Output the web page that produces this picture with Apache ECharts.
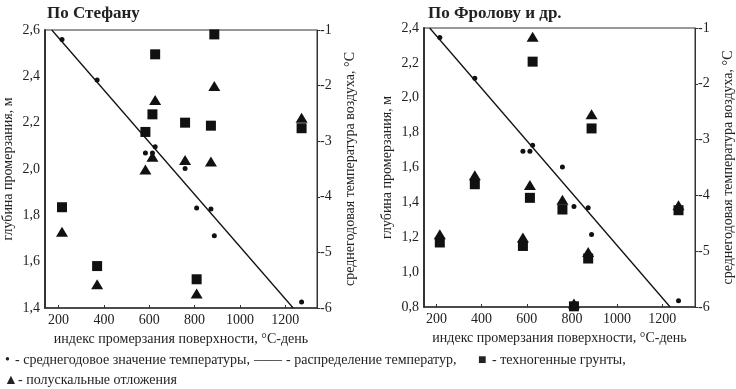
<!DOCTYPE html>
<html>
<head>
<meta charset="utf-8">
<script src="https://cdn.jsdelivr.net/npm/echarts@6/dist/echarts.min.js"></script>
<style>
  html, body { margin: 0; padding: 0; background: #fff; }
  #chart { width: 736px; height: 389px; }
</style>
</head>
<body>
<div id="chart"></div>
<script>
// станции: индекс промерзания поверхности, °С-день
const stations = [215, 370, 583, 614, 626, 758, 809, 872, 887, 1272];
// среднегодовая температура воздуха, °С (одинаковая для обеих панелей)
const meanTemp = [-1.17, -1.90, -3.21, -3.21, -3.10, -3.49, -4.20, -4.22, -4.70, -5.89];
// распределение температур (прямая)
const trendLine = [[170, -1], [1235, -6]];

// По Стефану: глубина промерзания, м
const stefanSoil = [1.835, 1.581, 2.160, 2.236, 2.495, 2.200, 1.524, 2.187, 2.581, 2.176];
const stefanRock = [1.729, 1.502, 1.998, 2.053, 2.298, 2.039, 1.463, 2.032, 2.358, 2.221];
// По Фролову и др.
const frolovSoil = [1.170, 1.504, 1.150, 1.426, 2.207, 1.359, 0.804, 1.078, 1.824, 1.355];
const frolovRock = [1.217, 1.556, 1.199, 1.499, 2.350, 1.415, 0.820, 1.116, 1.905, 1.384];

const xTicks = [200, 400, 600, 800, 1000, 1200];
const panelTitles = ['По Стефану', 'По Фролову и др.'];
const legendParts = [
  '•', '- среднегодовое значение температуры,',
  '——', '- распределение температур,',
  '■', '- техногенные грунты,',
  '▲', '- полускальные отложения'
];

const chart = echarts.init(document.getElementById('chart'));

const serif = '"Liberation Serif", "DejaVu Serif", serif';
const ink = '#222';
const pairs = (ys) => stations.map((x, i) => [x, ys[i]]);
const comma = (v) => v.toFixed(1).replace('.', ',');

function xAxisFor(gridIndex, min, max) {
  return {
    type: 'value', gridIndex, min, max,
    name: 'индекс промерзания поверхности, °С-день',
    nameLocation: 'middle', nameGap: 19,
    nameTextStyle: { fontFamily: serif, fontSize: 14, color: ink },
    splitLine: { show: false },
    axisLine: { lineStyle: { color: '#333', width: 1.5 } },
    axisTick: { show: true, inside: true, length: 3, customValues: xTicks, lineStyle: { color: '#333' } },
    axisLabel: { customValues: xTicks, formatter: (v) => String(v), margin: 5, fontFamily: serif, fontSize: 14, color: ink }
  };
}

function depthAxis(gridIndex, min, max) {
  return {
    type: 'value', gridIndex, min, max, interval: 0.2, position: 'left',
    name: 'глубина промерзания, м',
    nameLocation: 'middle', nameRotate: 90, nameGap: 30,
    nameTextStyle: { fontFamily: serif, fontSize: 14, color: ink },
    splitLine: { show: false },
    axisLine: { show: true, lineStyle: { color: '#333', width: 2 } },
    axisTick: { show: false },
    axisLabel: { formatter: comma, margin: 5, fontFamily: serif, fontSize: 14, color: ink }
  };
}

function tempAxis(gridIndex) {
  return {
    type: 'value', gridIndex, min: -6, max: -1, interval: 1, position: 'right',
    name: 'среднегодовая температура воздуха, °С',
    nameLocation: 'middle', nameRotate: 90, nameGap: 26,
    nameTextStyle: { fontFamily: serif, fontSize: 14, color: ink },
    splitLine: { show: false },
    axisLine: { show: true, lineStyle: { color: '#333', width: 1 } },
    axisTick: { show: true, length: 3, lineStyle: { color: '#333' } },
    axisLabel: { margin: 3, fontFamily: serif, fontSize: 14, color: ink }
  };
}

function panelSeries(p, soil, rock) {
  const x = p, yDepth = p * 2, yTemp = p * 2 + 1;
  const mark = { color: '#111', opacity: 1 };
  return [
    {
      name: 'техногенные грунты', type: 'scatter', xAxisIndex: x, yAxisIndex: yDepth,
      symbol: 'rect', symbolSize: 10, itemStyle: mark, data: pairs(soil)
    },
    {
      name: 'полускальные отложения', type: 'scatter', xAxisIndex: x, yAxisIndex: yDepth,
      symbol: 'triangle', symbolSize: [12, 10], itemStyle: mark, data: pairs(rock)
    },
    {
      name: 'среднегодовое значение температуры', type: 'scatter', xAxisIndex: x, yAxisIndex: yTemp,
      symbol: 'circle', symbolSize: 5, itemStyle: mark, data: pairs(meanTemp)
    },
    {
      name: 'распределение температур', type: 'line', xAxisIndex: x, yAxisIndex: yTemp,
      showSymbol: false, symbol: 'none', lineStyle: { color: '#111', width: 1.3 }, data: trendLine, z: 1
    }
  ];
}

// где стоит каждый фрагмент подписи легенды
const legendPlace = [
  [5, 353], [15, 353],
  [254, 353], [286, 353],
  [478, 353], [492, 353],
  [4, 373], [18, 373]
];

const option = {
  animation: false,
  backgroundColor: '#fff',
  title: panelTitles.map((t, i) => ({
    text: t, left: i === 0 ? 42 : 423, top: 0,
    textStyle: { fontFamily: serif, fontSize: 17, fontWeight: 'bold', color: ink }
  })),
  grid: [
    { left: 43, top: 30, width: 274, height: 278, show: true, borderColor: '#333', borderWidth: 1 },
    { left: 424, top: 28, width: 274, height: 279, show: true, borderColor: '#333', borderWidth: 1 }
  ],
  xAxis: [xAxisFor(0, 140, 1340), xAxisFor(1, 145, 1345)],
  yAxis: [depthAxis(0, 1.4, 2.6), tempAxis(0), depthAxis(1, 0.8, 2.4), tempAxis(1)],
  series: [
    ...panelSeries(0, stefanSoil, stefanRock),
    ...panelSeries(1, frolovSoil, frolovRock)
  ],
  graphic: legendParts.map((t, i) => ({
    type: 'text', x: legendPlace[i][0], y: legendPlace[i][1],
    style: { text: t, font: '14px ' + serif, fill: ink }
  }))
};

chart.setOption(option);
</script>
</body>
</html>
